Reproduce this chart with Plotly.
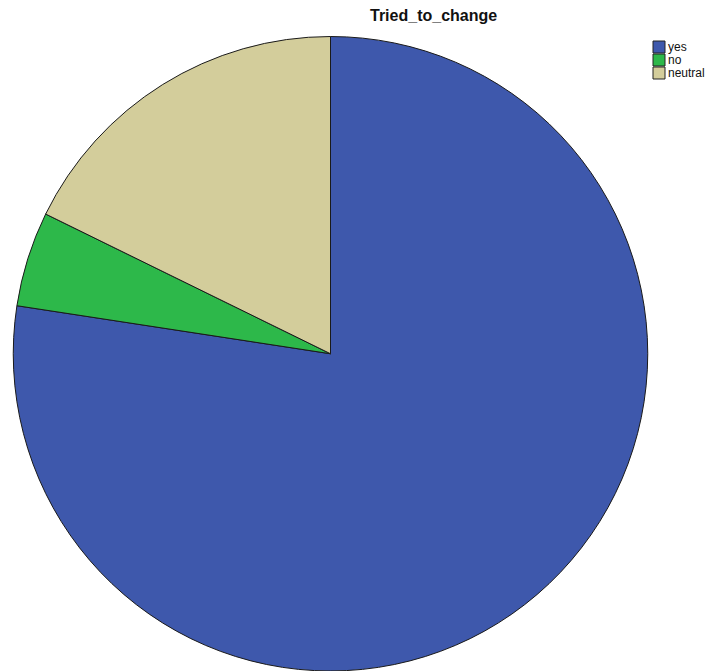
import plotly.graph_objects as go

labels = ["yes", "no", "neutral"]
counts = [48, 3, 11]
colors = ["#3E58AC", "#2DB84A", "#D3CD9B"]

W, H = 718, 671
cx, cy, r = 330.5, 355, 318.5

fig = go.Figure(go.Pie(
    labels=labels, values=counts, sort=False, direction="clockwise", rotation=0,
    marker=dict(colors=colors, line=dict(color="#1a1a1a", width=1)),
    textinfo="none", hoverinfo="label+value+percent", showlegend=False,
    domain=dict(x=[(cx - r) / W, (cx + r) / W], y=[max(0, 1 - (cy + r) / H), 1 - (cy - r) / H]),
))

# legend drawn at top right
lx, ly0, step, sq = 653, 41, 13, 12
for i, (lab, col) in enumerate(zip(labels, colors)):
    y = ly0 + i * step
    fig.add_shape(type="rect", xref="paper", yref="paper",
                  x0=lx / W, x1=(lx + sq) / W, y0=1 - (y + sq) / H, y1=1 - y / H,
                  fillcolor=col, line=dict(color="#222", width=1))
    fig.add_annotation(xref="paper", yref="paper", x=(lx + sq + 1) / W, y=1 - (y + sq / 2) / H,
                       text=lab, showarrow=False, xanchor="left", yanchor="middle",
                       font=dict(family="Liberation Sans, Arial", size=12, color="#111"))

fig.add_annotation(xref="paper", yref="paper", x=433 / W, y=1 - 16 / H, text="<b>Tried_to_change</b>",
                   showarrow=False, xanchor="center", yanchor="middle",
                   font=dict(family="Liberation Sans, Arial", size=16, color="#111"))

fig.update_layout(width=W, height=H, margin=dict(l=0, r=0, t=0, b=0),
                  paper_bgcolor="white", plot_bgcolor="white")
fig.write_html("out.html")
